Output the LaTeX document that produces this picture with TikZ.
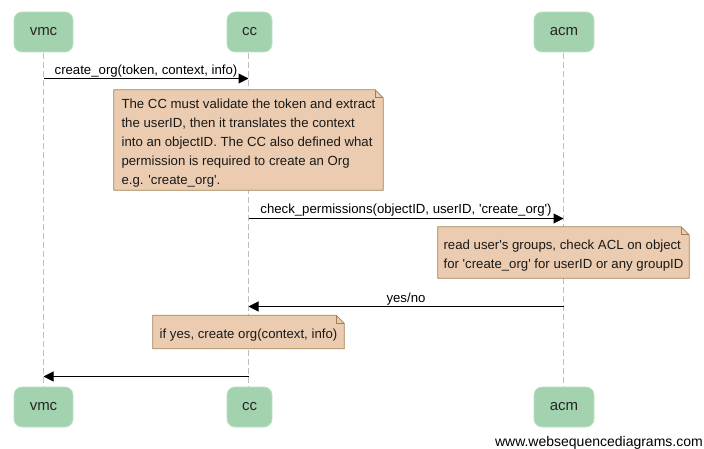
\documentclass[tikz,border=0pt]{standalone}
\usepackage{fontspec}
\setmainfont{Liberation Sans}
\usetikzlibrary{arrows.meta,backgrounds}
\definecolor{partfill}{RGB}{162,210,174}
\definecolor{partdraw}{RGB}{190,225,198}
\definecolor{notefill}{RGB}{235,204,176}
\definecolor{notedraw}{RGB}{160,128,80}
\definecolor{lifegray}{RGB}{190,190,190}
\newcommand{\sq}{\textquotesingle}
\tikzset{
  part/.style={rectangle, rounded corners=8pt, fill=partfill, draw=partdraw, line width=0.8pt,
    font=\fontsize{15}{18}\selectfont, text=black!85, inner sep=0pt},
  lifeline/.style={draw=lifegray, line width=0.8pt, dash pattern=on 6pt off 3pt},
  msg/.style={draw=black, line width=1pt, -{Triangle[length=10pt,width=10pt]}},
  msglabel/.style={font=\fontsize{13.2}{15}\selectfont, anchor=base, inner sep=0pt},
  notetext/.style={font=\fontsize{13.2}{19}\selectfont, align=left, inner sep=0pt, text=black!90},
  notebox/.style={fill=notefill, draw=notedraw, line width=0.8pt, line join=miter},
  notefold/.style={draw=notedraw, line width=0.8pt},
}
\newcommand{\drawnote}[1]{%
  \begin{scope}[on background layer]
    \draw[notebox] ([yshift=3pt]#1.north west) -- ([xshift=-8pt,yshift=3pt]#1.north east) -- ([yshift=-5pt]#1.north east) -- ([yshift=3pt]#1.south east) -- ([yshift=3pt]#1.south west) -- cycle;
    \draw[notefold] ([xshift=-8pt,yshift=3pt]#1.north east) -- ([xshift=-8pt,yshift=-5pt]#1.north east) -- ([yshift=-5pt]#1.north east);
  \end{scope}}
\begin{document}
\begin{tikzpicture}[x=1pt,y=-1pt]
\useasboundingbox (0,0) rectangle (704,449);
% participants
\node[part, minimum width=59pt, minimum height=40pt] (vmcT) at (43.5,32) {vmc};
\node[part, minimum width=45pt, minimum height=40pt] (ccT) at (249.5,32) {cc};
\node[part, minimum width=60pt, minimum height=40pt] (acmT) at (564,32) {acm};
\node[part, minimum width=59pt, minimum height=40pt] (vmcB) at (43.5,407) {vmc};
\node[part, minimum width=45pt, minimum height=40pt] (ccB) at (249.5,407) {cc};
\node[part, minimum width=60pt, minimum height=40pt] (acmB) at (564,407) {acm};
% lifelines
\coordinate (vmcL1) at (43.5,53); \coordinate (vmcL2) at (43.5,387);
\coordinate (ccL1) at (248.5,53); \coordinate (ccL2) at (248.5,387);
\coordinate (acmL1) at (563.5,53); \coordinate (acmL2) at (563.5,387);
\begin{scope}[on background layer]
\draw[lifeline] (vmcL1) -- (vmcL2);
\draw[lifeline] (ccL1) -- (ccL2);
\draw[lifeline] (acmL1) -- (acmL2);
\end{scope}
% message 1
\coordinate (m1a) at (43.5,78.5); \coordinate (m1b) at (248.5,78.5);
\draw[msg] (m1a) -- (m1b);
\node[msglabel] (l1) at (146,74.5) {create\_org(token, context, info)};
% note 1
\node[notetext, minimum width=269pt, minimum height=100pt] (n1) at (248.5,143) {The CC must validate the token and extract\\the userID, then it translates the context\\into an objectID. The CC also defined what\\permission is required to create an Org\\e.g. \sq create\_org\sq.};
\drawnote{n1}
% message 2
\coordinate (m2a) at (248.5,218.5); \coordinate (m2b) at (563.5,218.5);
\draw[msg] (m2a) -- (m2b);
\node[msglabel] (l2) at (406,214) {check\_permissions(objectID, userID, \sq create\_org\sq)};
% note 2
\node[notetext, minimum width=251pt, minimum height=51pt] (n2) at (563.5,255.5) {read user\sq s groups, check ACL on object\\for \sq create\_org\sq\ for userID or any groupID};
\drawnote{n2}
% message 3
\coordinate (m3a) at (563.5,306.5); \coordinate (m3b) at (248.5,306.5);
\draw[msg] (m3a) -- (m3b);
\node[msglabel] (l3) at (406,302) {yes/no};
% note 3
\node[notetext, minimum width=191pt, minimum height=33pt] (n3) at (248.5,335) {if yes, create org(context, info)};
\drawnote{n3}
% message 4
\coordinate (m4a) at (248.5,376.5); \coordinate (m4b) at (43.5,376.5);
\draw[msg] (m4a) -- (m4b);
% watermark
\node[font=\fontsize{14}{16}\selectfont, anchor=base east, inner sep=0pt] (wm) at (703,446) {www.websequencediagrams.com};
\end{tikzpicture}
\end{document}
